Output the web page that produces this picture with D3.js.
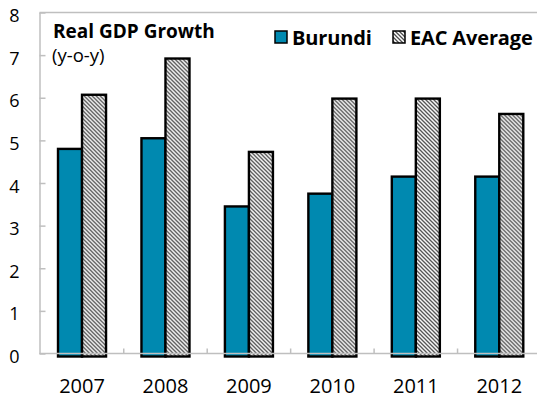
<!DOCTYPE html>
<html>
<head>
<meta charset="utf-8">
<script src="https://cdn.jsdelivr.net/npm/d3@7"></script>
<style>
  html, body { margin: 0; padding: 0; background: #fff; }
  svg { display: block; }
  text { font-family: "Open Sans", sans-serif; fill: #000; }
</style>
</head>
<body>
<svg id="chart" width="537" height="400"></svg>
<script>
// Real GDP growth (y-o-y, %)
const years = ["2007", "2008", "2009", "2010", "2011", "2012"];
const burundi = [4.8, 5.05, 3.45, 3.75, 4.15, 4.15];
const eacAverage = [6.07, 6.92, 4.73, 5.98, 5.98, 5.62];
const seriesNames = ["Burundi", "EAC Average"];
const yTicks = [0, 1, 2, 3, 4, 5, 6, 7, 8];

const W = 537, H = 400;
const svg = d3.select("#chart");

const plot = { left: 39.5, top: 12.5, right: 541, bottom: 353.5 };

const x0 = d3.scaleBand().domain(years).range([plot.left + 0.8, plot.right]);
const x1 = d3.scaleBand().domain(seriesNames).range([0, x0.bandwidth()])
  .paddingInner(0).paddingOuter(0.7375);
const y = d3.scaleLinear().domain([0, 8]).range([plot.bottom, plot.top]);

const blue = "#0089b0";
const axisGray = "#bfbfbf";

// diagonal hatch pattern for the EAC average
const defs = svg.append("defs");
const pat = defs.append("pattern")
  .attr("id", "hatch").attr("patternUnits", "userSpaceOnUse")
  .attr("width", 4).attr("height", 4);
pat.append("rect").attr("width", 4).attr("height", 4).attr("fill", "#fff");
pat.append("path")
  .attr("d", "M-1,-1 L5,5 M-1,3 L1,5 M3,-1 L5,1")
  .attr("stroke", "#4d4d4d").attr("stroke-width", 1.3);

// frame: top line
svg.append("line")
  .attr("x1", plot.left).attr("x2", W).attr("y1", plot.top).attr("y2", plot.top)
  .attr("stroke", axisGray).attr("stroke-width", 1.5);

// bars
const rows = years.map((yr, i) => ({ year: yr, values: [burundi[i], eacAverage[i]] }));
const groups = svg.append("g").selectAll("g").data(rows).join("g")
  .attr("transform", d => `translate(${x0(d.year)},0)`);
groups.selectAll("rect")
  .data(d => d.values.map((v, j) => ({ key: seriesNames[j], value: v })))
  .join("rect")
  .attr("x", d => x1(d.key))
  .attr("width", x1.bandwidth())
  .attr("y", d => y(d.value))
  .attr("height", d => y(0) + 3 - y(d.value))
  .attr("fill", d => d.key === "Burundi" ? blue : "url(#hatch)")
  .attr("stroke", "#000").attr("stroke-width", 2.4);

// y axis
const yAxis = d3.axisLeft(y).tickValues(yTicks).tickFormat(d3.format("d"))
  .tickSizeInner(-6).tickSizeOuter(0).tickPadding(20);
const gy = svg.append("g").attr("transform", `translate(${plot.left},0)`).call(yAxis);
gy.select(".domain").attr("stroke", axisGray).attr("stroke-width", 1.5);
gy.selectAll(".tick line").attr("stroke", axisGray).attr("stroke-width", 1.5);
gy.selectAll(".tick text").attr("font-size", 18).attr("fill", "#000")
  .attr("font-family", "'Open Sans', sans-serif").attr("dy", "0.5em");

// x axis baseline with separators between categories
svg.append("line")
  .attr("x1", plot.left).attr("x2", W).attr("y1", y(0)).attr("y2", y(0))
  .attr("stroke", axisGray).attr("stroke-width", 1.5);
svg.append("g").selectAll("line").data(years.slice(1)).join("line")
  .attr("x1", d => x0(d)).attr("x2", d => x0(d))
  .attr("y1", y(0) - 5).attr("y2", y(0))
  .attr("stroke", axisGray).attr("stroke-width", 1.5);

const xAxis = d3.axisBottom(x0).tickSize(0).tickPadding(0);
const gx = svg.append("g").attr("transform", `translate(0,${y(0)})`).call(xAxis);
gx.select(".domain").remove();
gx.selectAll(".tick text").attr("font-size", 20).attr("fill", "#000")
  .attr("font-family", "'Open Sans', sans-serif")
  .attr("y", 39.5).attr("dy", null);

// title
svg.append("text").attr("x", 53).attr("y", 38)
  .attr("font-size", 19).attr("font-weight", "bold")
  .text("Real GDP Growth");
svg.append("text").attr("x", 52).attr("y", 62)
  .attr("font-size", 18.5).text("(y-o-y)");

// legend
const legend = [
  { name: "Burundi", fill: blue, x: 275 },
  { name: "EAC Average", fill: "url(#hatch)", x: 393 }
];
const lg = svg.append("g").selectAll("g").data(legend).join("g");
lg.append("rect")
  .attr("x", d => d.x).attr("y", 31).attr("width", 12).attr("height", 12)
  .attr("fill", d => d.fill).attr("stroke", "#000").attr("stroke-width", 1.5);
lg.append("text")
  .attr("x", d => d.x + 17).attr("y", 45)
  .attr("font-size", 20).attr("font-weight", "bold").attr("letter-spacing", -0.15)
  .text(d => d.name);
</script>
</body>
</html>
